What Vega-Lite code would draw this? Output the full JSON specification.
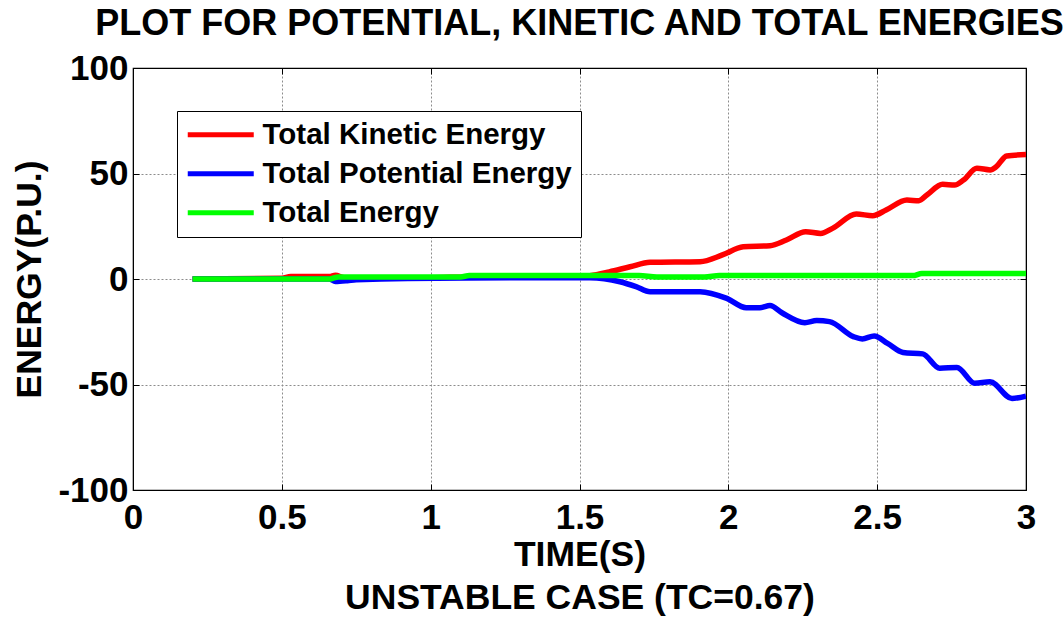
{
  "$schema": "https://vega.github.io/schema/vega-lite/v6.json",
  "autosize": "none",
  "width": 893,
  "height": 422,
  "padding": {"left": 133, "top": 68, "right": 37, "bottom": 128},
  "background": "white",
  "title": {
    "text": "PLOT FOR POTENTIAL, KINETIC AND TOTAL ENERGIES",
    "font": "Liberation Sans",
    "fontSize": 36,
    "fontWeight": "bold",
    "color": "black",
    "anchor": "middle",
    "offset": 8
  },
  "config": {
    "font": "Liberation Sans",
    "view": {"stroke": "black", "strokeWidth": 1.2},
    "axis": {
      "labelFont": "Liberation Sans",
      "labelFontWeight": "bold",
      "labelFontSize": 35,
      "labelColor": "black",
      "titleFont": "Liberation Sans",
      "titleFontWeight": "bold",
      "titleFontSize": 35.5,
      "titleColor": "black",
      "domainColor": "black",
      "tickColor": "black",
      "tickSize": -6,
      "gridColor": "#8c8c8c",
      "gridDash": [2, 2],
      "gridWidth": 1
    }
  },
  "data": {
    "values": [
      {"series": "Total Kinetic Energy", "t": 0.2, "v": 0},
      {"series": "Total Kinetic Energy", "t": 0.5, "v": 0.3},
      {"series": "Total Kinetic Energy", "t": 0.53, "v": 1.2},
      {"series": "Total Kinetic Energy", "t": 0.66, "v": 1.2},
      {"series": "Total Kinetic Energy", "t": 0.68, "v": 1.8},
      {"series": "Total Kinetic Energy", "t": 0.71, "v": 0.6},
      {"series": "Total Kinetic Energy", "t": 1.0, "v": 0.6},
      {"series": "Total Kinetic Energy", "t": 1.12, "v": 1.0},
      {"series": "Total Kinetic Energy", "t": 1.5, "v": 1.2},
      {"series": "Total Kinetic Energy", "t": 1.535, "v": 1.6},
      {"series": "Total Kinetic Energy", "t": 1.6, "v": 3.4},
      {"series": "Total Kinetic Energy", "t": 1.67, "v": 5.8},
      {"series": "Total Kinetic Energy", "t": 1.737, "v": 7.9},
      {"series": "Total Kinetic Energy", "t": 1.905, "v": 8.2},
      {"series": "Total Kinetic Energy", "t": 1.98, "v": 11.4},
      {"series": "Total Kinetic Energy", "t": 2.05, "v": 15.3},
      {"series": "Total Kinetic Energy", "t": 2.14, "v": 15.8},
      {"series": "Total Kinetic Energy", "t": 2.195, "v": 18.5},
      {"series": "Total Kinetic Energy", "t": 2.26, "v": 22.4},
      {"series": "Total Kinetic Energy", "t": 2.31, "v": 21.6},
      {"series": "Total Kinetic Energy", "t": 2.35, "v": 24},
      {"series": "Total Kinetic Energy", "t": 2.43, "v": 30.8},
      {"series": "Total Kinetic Energy", "t": 2.485, "v": 30},
      {"series": "Total Kinetic Energy", "t": 2.53, "v": 32.7},
      {"series": "Total Kinetic Energy", "t": 2.6, "v": 37.4},
      {"series": "Total Kinetic Energy", "t": 2.64, "v": 37.1},
      {"series": "Total Kinetic Energy", "t": 2.667, "v": 39.8},
      {"series": "Total Kinetic Energy", "t": 2.72, "v": 44.9},
      {"series": "Total Kinetic Energy", "t": 2.76, "v": 44.5},
      {"series": "Total Kinetic Energy", "t": 2.79, "v": 46.9},
      {"series": "Total Kinetic Energy", "t": 2.835, "v": 52.5},
      {"series": "Total Kinetic Energy", "t": 2.88, "v": 51.7},
      {"series": "Total Kinetic Energy", "t": 2.9, "v": 53.2},
      {"series": "Total Kinetic Energy", "t": 2.935, "v": 58.3},
      {"series": "Total Kinetic Energy", "t": 3.0, "v": 59},
      {"series": "Total Potential Energy", "t": 0.2, "v": 0},
      {"series": "Total Potential Energy", "t": 0.66, "v": 0},
      {"series": "Total Potential Energy", "t": 0.68, "v": -1.2},
      {"series": "Total Potential Energy", "t": 0.72, "v": -0.8},
      {"series": "Total Potential Energy", "t": 0.75, "v": -0.3},
      {"series": "Total Potential Energy", "t": 1.12, "v": 0.5},
      {"series": "Total Potential Energy", "t": 1.535, "v": 0.6},
      {"series": "Total Potential Energy", "t": 1.636, "v": -1.3},
      {"series": "Total Potential Energy", "t": 1.69, "v": -3.6},
      {"series": "Total Potential Energy", "t": 1.737, "v": -6},
      {"series": "Total Potential Energy", "t": 1.905, "v": -6},
      {"series": "Total Potential Energy", "t": 1.995, "v": -9.2},
      {"series": "Total Potential Energy", "t": 2.06, "v": -13.6},
      {"series": "Total Potential Energy", "t": 2.106, "v": -13.6},
      {"series": "Total Potential Energy", "t": 2.14, "v": -12.6},
      {"series": "Total Potential Energy", "t": 2.18, "v": -16},
      {"series": "Total Potential Energy", "t": 2.257, "v": -20.7},
      {"series": "Total Potential Energy", "t": 2.297, "v": -19.7},
      {"series": "Total Potential Energy", "t": 2.34, "v": -20.2},
      {"series": "Total Potential Energy", "t": 2.42, "v": -27.3},
      {"series": "Total Potential Energy", "t": 2.45, "v": -28.4},
      {"series": "Total Potential Energy", "t": 2.49, "v": -27},
      {"series": "Total Potential Energy", "t": 2.535, "v": -30.5},
      {"series": "Total Potential Energy", "t": 2.587, "v": -34.8},
      {"series": "Total Potential Energy", "t": 2.653, "v": -35.5},
      {"series": "Total Potential Energy", "t": 2.71, "v": -42.3},
      {"series": "Total Potential Energy", "t": 2.768, "v": -41.9},
      {"series": "Total Potential Energy", "t": 2.828, "v": -49.4},
      {"series": "Total Potential Energy", "t": 2.879, "v": -48.7},
      {"series": "Total Potential Energy", "t": 2.953, "v": -56.6},
      {"series": "Total Potential Energy", "t": 3.0, "v": -55.5},
      {"series": "Total Energy", "t": 0.2, "v": 0},
      {"series": "Total Energy", "t": 0.66, "v": 0},
      {"series": "Total Energy", "t": 0.69, "v": 1.0},
      {"series": "Total Energy", "t": 1.1, "v": 1.0},
      {"series": "Total Energy", "t": 1.13, "v": 1.6},
      {"series": "Total Energy", "t": 1.7, "v": 1.6},
      {"series": "Total Energy", "t": 1.76, "v": 1.0},
      {"series": "Total Energy", "t": 1.92, "v": 1.0},
      {"series": "Total Energy", "t": 1.97, "v": 1.6},
      {"series": "Total Energy", "t": 2.62, "v": 1.6},
      {"series": "Total Energy", "t": 2.65, "v": 2.6},
      {"series": "Total Energy", "t": 3.0, "v": 2.6}
    ]
  },
  "layer": [
    {
      "mark": {"type": "line", "strokeWidth": 5.5, "interpolate": "monotone", "clip": true},
      "encoding": {
        "x": {
          "field": "t",
          "type": "quantitative",
          "scale": {"domain": [0, 3], "nice": false, "zero": false},
          "axis": {
            "values": [0, 0.5, 1, 1.5, 2, 2.5, 3],
            "format": "~g",
            "labelPadding": 16,
            "labelFlush": false,
            "title": ["TIME(S)", "UNSTABLE CASE (TC=0.67)"],
            "titleLineHeight": 43,
            "titlePadding": 2
          }
        },
        "y": {
          "field": "v",
          "type": "quantitative",
          "scale": {"domain": [-100, 100], "nice": false, "zero": false},
          "axis": {
            "values": [-100, -50, 0, 50, 100],
            "labelExpr": "'' + datum.value",
            "labelPadding": 11,
            "labelFlush": false,
            "title": "ENERGY(P.U.)",
            "titlePadding": 10
          }
        },
        "color": {
          "field": "series",
          "type": "nominal",
          "sort": ["Total Kinetic Energy", "Total Potential Energy", "Total Energy"],
          "scale": {
            "domain": ["Total Kinetic Energy", "Total Potential Energy", "Total Energy"],
            "range": ["#ff0000", "#0000ff", "#00ff00"]
          },
          "legend": {
            "title": null,
            "orient": "none",
            "legendX": 44,
            "legendY": 43,
            "direction": "vertical",
            "fillColor": "white",
            "strokeColor": "black",
            "padding": 9,
            "rowPadding": 8,
            "symbolType": "M-3,0L3,0",
            "symbolSize": 484,
            "symbolStrokeWidth": 5,
            "symbolOffset": 20,
            "labelFont": "Liberation Sans",
            "labelFontWeight": "bold",
            "labelFontSize": 29.5,
            "labelColor": "black",
            "labelOffset": 27,
            "labelLimit": 500
          }
        },
        "order": {"field": "t", "type": "quantitative"}
      }
    },
    {
      "mark": {"type": "point", "opacity": 0},
      "encoding": {
        "x": {
          "field": "t",
          "type": "quantitative",
          "axis": {"orient": "top", "values": [0, 0.5, 1, 1.5, 2, 2.5, 3], "labels": false, "title": null, "grid": false}
        },
        "y": {
          "field": "v",
          "type": "quantitative",
          "axis": {"orient": "right", "values": [-100, -50, 0, 50, 100], "labels": false, "title": null, "grid": false}
        }
      }
    }
  ],
  "resolve": {"axis": {"x": "independent", "y": "independent"}}
}
